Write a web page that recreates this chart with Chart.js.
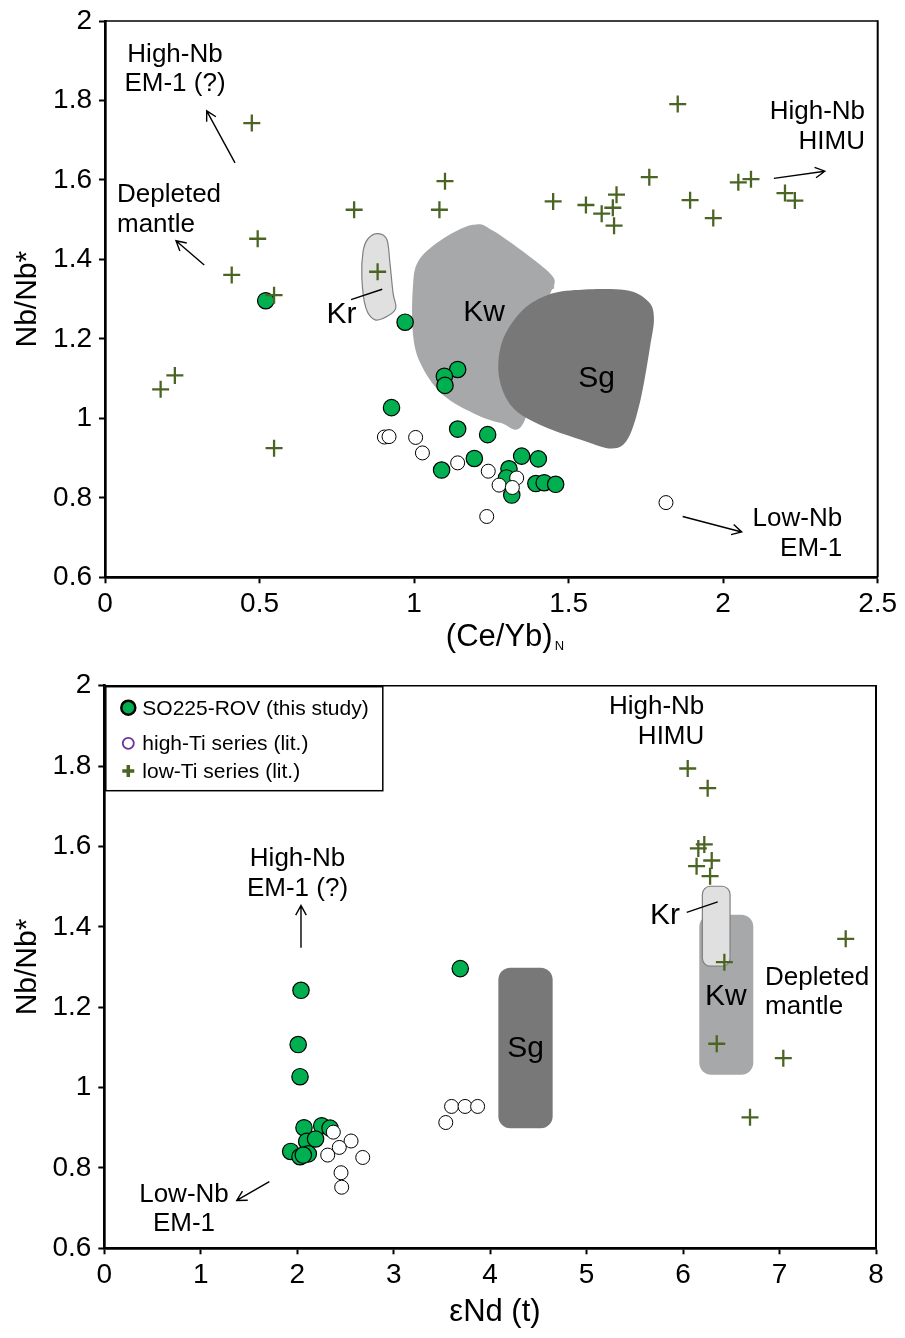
<!DOCTYPE html>
<html>
<head>
<meta charset="utf-8">
<script src="https://cdn.jsdelivr.net/npm/chart.js@4.4.0/dist/chart.umd.min.js"></script>
<style>
  html, body { margin: 0; padding: 0; background: #fff; }
  .panel { position: absolute; left: 0; width: 905px; }
</style>
</head>
<body>
<div class="panel" style="top:0;height:660px"><canvas id="upper" width="905" height="660"></canvas></div>
<div class="panel" style="top:660px;height:678px"><canvas id="lower" width="905" height="678"></canvas></div>
<script>
'use strict';

const FONT = '"Liberation Sans", Arial, Helvetica, sans-serif';
const OLIVE = '#4b6424';
const GREEN = '#00b050';

// shared y axis
const yTicks = [0.6, 0.8, 1, 1.2, 1.4, 1.6, 1.8, 2];

// ---- upper panel: Nb/Nb* vs (Ce/Yb)N ----
const topXTicks = [0, 0.5, 1, 1.5, 2, 2.5];

const topLowTiX = [0.475, 0.806, 1.082, 1.10, 0.494, 0.41, 0.547, 0.882, 0.18, 0.226, 0.547, 1.853, 1.45, 1.556, 1.607, 1.655, 1.643, 1.647, 1.761, 1.893, 1.968, 2.049, 2.09, 2.2, 2.232];
const topLowTiY = [1.743, 1.525, 1.525, 1.597, 1.452, 1.361, 1.31, 1.369, 1.073, 1.108, 0.925, 1.791, 1.546, 1.537, 1.515, 1.563, 1.53, 1.485, 1.607, 1.549, 1.504, 1.594, 1.602, 1.567, 1.548];

const topHighTiX = [0.904, 0.919, 1.005, 1.027, 1.141, 1.24, 1.275, 1.332, 1.318, 1.235, 1.815];
const topHighTiY = [0.953, 0.954, 0.952, 0.913, 0.888, 0.867, 0.832, 0.85, 0.826, 0.753, 0.788];

const topRovX = [0.52, 0.971, 1.141, 1.098, 1.1, 0.927, 1.141, 1.238, 1.089, 1.195, 1.348, 1.402, 1.307, 1.299, 1.316, 1.394, 1.421, 1.458];
const topRovY = [1.296, 1.242, 1.123, 1.106, 1.083, 1.027, 0.973, 0.959, 0.87, 0.899, 0.905, 0.898, 0.873, 0.85, 0.807, 0.836, 0.838, 0.834];

// source fields (outlines)
const krTopX = [0.883, 0.912, 0.922, 0.932, 0.941, 0.916, 0.874, 0.844, 0.831, 0.835, 0.851];
const krTopY = [1.465, 1.45, 1.39, 1.315, 1.278, 1.258, 1.248, 1.278, 1.353, 1.42, 1.452];
const kwTopX = [1.19, 1.26, 1.433, 1.453, 1.433, 1.359, 1.278, 1.181, 1.084, 1.019, 0.996, 0.996, 1.013, 1.084];
const kwTopY = [1.487, 1.47, 1.37, 1.33, 1.29, 0.997, 0.989, 1.017, 1.066, 1.141, 1.216, 1.328, 1.395, 1.447];
const sgTopX = [1.521, 1.682, 1.757, 1.776, 1.763, 1.731, 1.692, 1.64, 1.537, 1.407, 1.317, 1.275, 1.284, 1.343, 1.424];
const sgTopY = [1.323, 1.323, 1.295, 1.253, 1.178, 1.041, 0.949, 0.924, 0.947, 0.984, 1.029, 1.104, 1.191, 1.266, 1.308];

// ---- lower panel: Nb/Nb* vs eNd(t) ----
const botXTicks = [0, 1, 2, 3, 4, 5, 6, 7, 8];

const botLowTiX = [6.048, 6.255, 6.22, 6.158, 6.297, 6.14, 6.28, 6.428, 7.686, 6.349, 7.039, 6.694];
const botLowTiY = [1.794, 1.745, 1.605, 1.595, 1.565, 1.551, 1.526, 1.312, 1.37, 1.109, 1.073, 0.926];

const botHighTiX = [2.374, 2.558, 2.436, 2.316, 2.679, 2.454, 2.461, 3.54, 3.6, 3.74, 3.87];
const botHighTiY = [0.889, 0.867, 0.851, 0.832, 0.826, 0.788, 0.752, 0.913, 0.953, 0.953, 0.953];

const botRovX = [2.039, 2.01, 2.029, 3.69, 2.07, 2.254, 2.34, 2.098, 2.19, 1.932, 2.029, 2.115, 2.063];
const botRovY = [1.242, 1.107, 1.027, 1.296, 0.9, 0.905, 0.899, 0.866, 0.872, 0.841, 0.828, 0.835, 0.832];

// field ranges [min, max]
const sgBotX = [4.085, 4.648], sgBotY = [0.899, 1.298];
const kwBotX = [6.168, 6.728], kwBotY = [1.032, 1.43];
const krBotX = [6.2, 6.487], krBotY = [1.302, 1.501];

function pts(xs, ys) {
  return xs.map((x, i) => ({ x, y: ys[i] }));
}

function buildDatasets(lx, ly, hx, hy, rx, ry) {
  // first dataset is drawn last (on top)
  return [
    { label: 'low-Ti series (lit.)', data: pts(lx, ly), pointStyle: 'cross', pointRadius: 8.5,
      borderWidth: 2.3, borderColor: OLIVE, backgroundColor: OLIVE },
    { label: 'high-Ti series (lit.)', data: pts(hx, hy), pointStyle: 'circle', pointRadius: 7,
      borderWidth: 1, borderColor: '#000', backgroundColor: '#fff' },
    { label: 'SO225-ROV (this study)', data: pts(rx, ry), pointStyle: 'circle', pointRadius: 8.2,
      borderWidth: 1.2, borderColor: '#000', backgroundColor: GREEN }
  ];
}

function axisBase() {
  return {
    type: 'linear',
    grid: { drawOnChartArea: false, drawTicks: true, tickLength: 6, tickWidth: 2, tickColor: '#000' },
    border: { display: true, color: '#000', width: 2.7 },
    ticks: {
      color: '#000', font: { family: FONT, size: 28, lineHeight: 1 }, padding: 7, maxRotation: 0, autoSkip: false,
      callback: v => String(Math.round(v * 10) / 10)
    }
  };
}

function makeScales(xTicks, yWidth) {
  const x = axisBase();
  x.min = xTicks[0];
  x.max = xTicks[xTicks.length - 1];
  x.afterBuildTicks = s => { s.ticks = xTicks.map(v => ({ value: v })); };
  x.afterFit = s => { s.height = 60; };
  const y = axisBase();
  y.min = yTicks[0];
  y.max = yTicks[yTicks.length - 1];
  y.afterBuildTicks = s => { s.ticks = yTicks.map(v => ({ value: v })); };
  y.afterFit = s => { s.width = yWidth; };
  y.title = { display: true, text: 'Nb/Nb*', color: '#000', font: { family: FONT, size: 30 }, padding: { top: 10, bottom: 0 } };
  return { x, y };
}

function closedCurve(ctx, p) {
  const n = p.length;
  ctx.moveTo(p[0].x, p[0].y);
  for (let i = 0; i < n; i++) {
    const p0 = p[(i - 1 + n) % n], p1 = p[i], p2 = p[(i + 1) % n], p3 = p[(i + 2) % n];
    ctx.bezierCurveTo(p1.x + (p2.x - p0.x) / 6, p1.y + (p2.y - p0.y) / 6,
                      p2.x - (p3.x - p1.x) / 6, p2.y - (p3.y - p1.y) / 6, p2.x, p2.y);
  }
  ctx.closePath();
}

function arrow(ctx, x1, y1, x2, y2) {
  const a = Math.atan2(y2 - y1, x2 - x1), h = 11, w = 0.5;
  ctx.beginPath();
  ctx.moveTo(x1, y1);
  ctx.lineTo(x2, y2);
  ctx.moveTo(x2 - h * Math.cos(a - w), y2 - h * Math.sin(a - w));
  ctx.lineTo(x2, y2);
  ctx.lineTo(x2 - h * Math.cos(a + w), y2 - h * Math.sin(a + w));
  ctx.stroke();
}

function makeDecor(cfg) {
  return {
    id: 'decor',
    beforeDatasetsDraw(chart) {
      const { ctx, scales: { x, y } } = chart;
      ctx.save();
      (cfg.blobs || []).forEach(b => {
        const p = b.xs.map((v, i) => ({ x: x.getPixelForValue(v), y: y.getPixelForValue(b.ys[i]) }));
        ctx.beginPath();
        closedCurve(ctx, p);
        ctx.fillStyle = b.fill;
        ctx.fill();
        if (b.stroke) { ctx.strokeStyle = b.stroke; ctx.lineWidth = 1.2; ctx.stroke(); }
      });
      (cfg.boxes || []).forEach(b => {
        const l = x.getPixelForValue(b.xs[0]), r = x.getPixelForValue(b.xs[1]);
        const t = y.getPixelForValue(b.ys[1]), btm = y.getPixelForValue(b.ys[0]);
        ctx.beginPath();
        ctx.roundRect(l, t, r - l, btm - t, b.r);
        ctx.fillStyle = b.fill;
        ctx.fill();
        if (b.stroke) { ctx.strokeStyle = b.stroke; ctx.lineWidth = 1.2; ctx.stroke(); }
      });
      ctx.restore();
    },
    afterDatasetsDraw(chart) {
      const { ctx, chartArea: ca, scales: { x, y } } = chart;
      ctx.save();
      // thin frame on top and right
      ctx.strokeStyle = '#000';
      ctx.lineWidth = 1.5;
      ctx.beginPath(); ctx.moveTo(ca.left, ca.top); ctx.lineTo(ca.right, ca.top); ctx.stroke();
      ctx.lineWidth = 2;
      ctx.beginPath(); ctx.moveTo(ca.right, ca.top - 0.75); ctx.lineTo(ca.right, ca.bottom); ctx.stroke();

      // leader lines and arrows
      ctx.lineWidth = 1.4;
      (cfg.lines || []).forEach(a => {
        ctx.beginPath();
        ctx.moveTo(x.getPixelForValue(a[0]), y.getPixelForValue(a[1]));
        ctx.lineTo(x.getPixelForValue(a[2]), y.getPixelForValue(a[3]));
        ctx.stroke();
      });
      (cfg.arrows || []).forEach(a => arrow(ctx, x.getPixelForValue(a[0]), y.getPixelForValue(a[1]),
                                                x.getPixelForValue(a[2]), y.getPixelForValue(a[3])));

      // text labels
      ctx.fillStyle = '#000';
      ctx.textBaseline = 'alphabetic';
      (cfg.labels || []).forEach(lb => {
        const size = lb.size || 26;
        ctx.font = size + 'px ' + FONT;
        ctx.textAlign = lb.align;
        const px = x.getPixelForValue(lb.x), py = y.getPixelForValue(lb.y);
        lb.lines.forEach((t, i) => ctx.fillText(t, px, py + i * 29.5));
      });

      // x axis title (with optional subscript)
      const xt = cfg.xTitle;
      ctx.font = '31px ' + FONT;
      const w1 = ctx.measureText(xt.text).width;
      ctx.font = '13px ' + FONT;
      const w2 = xt.sub ? ctx.measureText(xt.sub).width + 2 : 0;
      const left = x.getPixelForValue(xt.x) - (w1 + w2) / 2;
      const base = ca.bottom + xt.dy;
      ctx.textAlign = 'left';
      ctx.font = '31px ' + FONT;
      ctx.fillText(xt.text, left, base);
      if (xt.sub) {
        ctx.font = '13px ' + FONT;
        ctx.fillText(xt.sub, left + w1 + 2, base + 4);
      }

      // legend box
      if (cfg.legend) {
        const lx = ca.left + 1.5, ly = ca.top + 1;
        ctx.lineWidth = 1.5;
        ctx.strokeStyle = '#000';
        ctx.strokeRect(lx, ly, 277, 104);
        const mx = ca.left + 24;
        // green circle
        ctx.beginPath();
        ctx.arc(mx, ca.top + 22, 7, 0, Math.PI * 2);
        ctx.fillStyle = GREEN; ctx.fill();
        ctx.lineWidth = 2.5; ctx.strokeStyle = '#000'; ctx.stroke();
        // purple open circle
        ctx.beginPath();
        ctx.arc(mx, ca.top + 57.6, 5.5, 0, Math.PI * 2);
        ctx.fillStyle = '#fff'; ctx.fill();
        ctx.lineWidth = 1.8; ctx.strokeStyle = '#7030a0'; ctx.stroke();
        // olive cross
        ctx.lineWidth = 3.5; ctx.strokeStyle = OLIVE;
        ctx.beginPath();
        ctx.moveTo(mx - 6, ca.top + 85.3); ctx.lineTo(mx + 6, ca.top + 85.3);
        ctx.moveTo(mx, ca.top + 79.3); ctx.lineTo(mx, ca.top + 91.3);
        ctx.stroke();
        ctx.fillStyle = '#000';
        ctx.font = '21px ' + FONT;
        ctx.textAlign = 'left';
        const names = chart.data.datasets.map(d => d.label).reverse();
        const bases = [29.3, 64.3, 92.6];
        names.forEach((t, i) => ctx.fillText(t, ca.left + 38, ca.top + bases[i]));
      }
      ctx.restore();
    }
  };
}

const commonPlugins = { legend: { display: false }, tooltip: { enabled: false } };

new Chart(document.getElementById('upper'), {
  type: 'scatter',
  data: { datasets: buildDatasets(topLowTiX, topLowTiY, topHighTiX, topHighTiY, topRovX, topRovY) },
  options: {
    responsive: false,
    animation: false,
    events: [],
    layout: { padding: { left: 0, top: 15, right: 27.3, bottom: 22.7 } },
    scales: makeScales(topXTicks, 105),
    plugins: commonPlugins
  },
  plugins: [makeDecor({
    blobs: [
      { xs: kwTopX, ys: kwTopY, fill: '#a6a8a9' },
      { xs: sgTopX, ys: sgTopY, fill: '#777877' },
      { xs: krTopX, ys: krTopY, fill: '#e0e0e0', stroke: '#808080' }
    ],
    labels: [
      { lines: ['High-Nb', 'EM-1 (?)'], x: 0.2265, y: 1.898, align: 'center' },
      { lines: ['Depleted', 'mantle'], x: 0.0388, y: 1.544, align: 'left' },
      { lines: ['Kr'], x: 0.717, y: 1.239, align: 'left', size: 30 },
      { lines: ['Kw'], x: 1.159, y: 1.245, align: 'left', size: 30 },
      { lines: ['Sg'], x: 1.531, y: 1.079, align: 'left', size: 30 },
      { lines: ['High-Nb', 'HIMU'], x: 2.459, y: 1.753, align: 'right' },
      { lines: ['Low-Nb', 'EM-1'], x: 2.385, y: 0.728, align: 'right' }
    ],
    arrows: [
      [0.4206, 1.643, 0.329, 1.774],
      [0.321, 1.386, 0.2297, 1.447],
      [2.164, 1.604, 2.329, 1.622],
      [1.869, 0.753, 2.06, 0.714]
    ],
    lines: [[0.796, 1.299, 0.897, 1.325]],
    xTitle: { text: '(Ce/Yb)', sub: 'N', x: 1.294, dy: 69 }
  })]
});

new Chart(document.getElementById('lower'), {
  type: 'scatter',
  data: { datasets: buildDatasets(botLowTiX, botLowTiY, botHighTiX, botHighTiY, botRovX, botRovY) },
  options: {
    responsive: false,
    animation: false,
    events: [],
    layout: { padding: { left: 0, top: 25.7, right: 29, bottom: 29.7 } },
    scales: makeScales(botXTicks, 104.3),
    plugins: commonPlugins
  },
  plugins: [makeDecor({
    boxes: [
      { xs: sgBotX, ys: sgBotY, fill: '#777877', r: 12 },
      { xs: kwBotX, ys: kwBotY, fill: '#a6a8a9', r: 12 },
      { xs: krBotX, ys: krBotY, fill: '#e0e0e0', stroke: '#808080', r: 8 }
    ],
    labels: [
      { lines: ['High-Nb', 'EM-1 (?)'], x: 2.003, y: 1.551, align: 'center' },
      { lines: ['High-Nb', 'HIMU'], x: 6.22, y: 1.929, align: 'right' },
      { lines: ['Kr'], x: 5.657, y: 1.406, align: 'left', size: 30 },
      { lines: ['Kw'], x: 6.227, y: 1.206, align: 'left', size: 30 },
      { lines: ['Depleted', 'mantle'], x: 6.85, y: 1.256, align: 'left' },
      { lines: ['Sg'], x: 4.178, y: 1.077, align: 'left', size: 30 },
      { lines: ['Low-Nb', 'EM-1'], x: 0.826, y: 0.716, align: 'center' }
    ],
    arrows: [
      [2.039, 1.348, 2.039, 1.453],
      [1.711, 0.766, 1.373, 0.719]
    ],
    lines: [[6.038, 1.436, 6.359, 1.462]],
    xTitle: { text: '\u03b5Nd (t)', x: 4.05, dy: 72.7 },
    legend: true
  })]
});
</script>
</body>
</html>
